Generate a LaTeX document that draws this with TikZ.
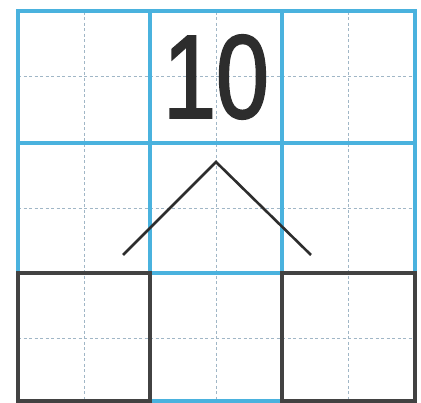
\documentclass[tikz,border=0pt]{standalone}
\usepackage{fontspec}
\setmainfont{Liberation Sans}
\newfontfamily\numfont[FakeBold=1.6,FakeStretch=0.8]{Liberation Sans}
\definecolor{gridblue}{RGB}{74,178,222}
\definecolor{dashgray}{RGB}{160,182,198}
\definecolor{ink}{RGB}{45,45,45}
\begin{document}
\begin{tikzpicture}[x=1pt,y=-1pt,
  blueline/.style={draw=gridblue,line width=3.2pt},
  guide/.style={draw=dashgray,line width=0.9pt,dash pattern=on 3pt off 2.5pt},
  darkbox/.style={draw=ink!90,line width=4.6pt},
  chevron/.style={draw=ink,line width=2.6pt}]
\useasboundingbox (0,0) rectangle (421,403);
\fill[white] (0,0) rectangle (421,403);
% guide dashed lines
\foreach \x in {84,216,348} \draw[guide] (\x,12) -- (\x,401);
\foreach \y in {76,208,338} \draw[guide] (18,\y) -- (415,\y);
% blue grid
\draw[blueline] (18,11) rectangle (415,401);
\draw[blueline] (150,11) -- (150,401);
\draw[blueline] (282,11) -- (282,401);
\draw[blueline] (18,143) -- (415,143);
\draw[blueline] (18,273) -- (415,273);
% dark boxes
\draw[darkbox] (18,273) rectangle (150,401);
\draw[darkbox] (282,273) rectangle (415,401);
% number
\node[text=ink,inner sep=0pt,font=\numfont\fontsize{119}{119}\selectfont] (num) at (216,77) {10};
% chevron
\coordinate (apex) at (216,162);
\coordinate (lend) at (123,255);
\coordinate (rend) at (311,255);
\draw[chevron] (lend) -- (apex) -- (rend);
\end{tikzpicture}
\end{document}
